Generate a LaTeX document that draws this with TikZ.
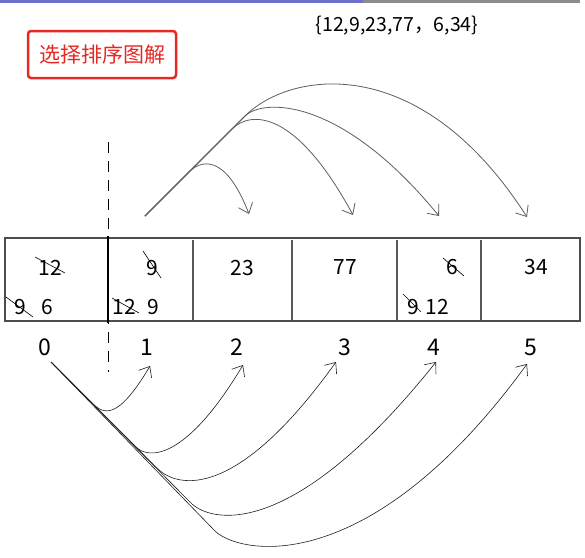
\documentclass[tikz,border=0pt]{standalone}
\usepackage{fontspec}
\setmainfont{Noto Sans CJK SC}
\usetikzlibrary{arrows.meta}
\definecolor{barblue}{RGB}{108,112,200}
\definecolor{bargray}{RGB}{140,140,140}
\definecolor{boxred}{RGB}{230,40,35}
\definecolor{topcurve}{RGB}{95,95,95}
\definecolor{botcurve}{RGB}{30,30,30}
\begin{document}
\begin{tikzpicture}[x=1pt,y=-1pt,
  num/.style={font=\fontsize{21}{21}\selectfont, inner sep=0pt},
  idx/.style={font=\fontsize{23}{23}\selectfont, inner sep=0pt},
  strike/.style={line width=0.6pt, black},
  toparc/.style={draw=topcurve, line width=0.8pt, -{Straight Barb[length=9pt,width=15pt]}},
  botarc/.style={draw=botcurve, line width=0.6pt, -{Straight Barb[length=9pt,width=15pt]}},
  cellline/.style={draw=black!70, line width=1.2pt}]
\useasboundingbox (0,0) rectangle (585,557);
\fill[white] (0,0) rectangle (585,557);
\fill[barblue] (0,0) rectangle (363,3);
\fill[bargray] (363,0) rectangle (580,3);

% title and label
\node[font=\fontsize{19.5}{20}\selectfont, inner sep=0pt] (title) at (397,26) {\{12,9,23,77，6,34\}};
\node[draw=boxred, line width=2.5pt, rounded corners=3pt, minimum width=148pt, minimum height=47pt,
      text=boxred, font=\fontsize{21}{21}\selectfont] (label) at (102,54.5) {选择排序图解};

% dashed divider
\draw[dash pattern=on 11pt off 8pt, line width=1pt] (108,142) -- (108,372);

% table
\draw[cellline] (5,238) rectangle (580,321);
\foreach \xx in {193,292,397,481} \draw[draw=black!65, line width=1.1pt] (\xx,240) -- (\xx,319.5);
\draw[black, line width=2pt] (108,236) -- (108,323);

% cell texts
\node[num] (c0a) at (50,268) {12};
\node[num] (c0b) at (20,307) {9};
\node[num] (c0c) at (47,307) {6};
\node[num] (c1a) at (152,268) {9};
\node[num] (c1b) at (124,307) {12};
\node[num] (c1c) at (153,307) {9};
\node[num] (c2a) at (242,268) {23};
\node[num] (c3a) at (345,267) {77};
\node[num] (c4a) at (452,267) {6};
\node[num] (c4b) at (413,307) {9};
\node[num] (c4c) at (437,307) {12};
\node[num] (c5a) at (536,267) {34};

% strikes
\draw[strike] (35,257) -- (65,273);
\draw[strike] (143,251) -- (161,278);
\draw[strike] (6,297) -- (33,317);
\draw[strike] (112,298) -- (139,313);
\draw[strike] (443,258) -- (464,276);
\draw[strike] (403,294) -- (421,312);

% index labels
\node[idx] (i0) at (45,347) {0};
\node[idx] (i1) at (147,347) {1};
\node[idx] (i2) at (237,347) {2};
\node[idx] (i3) at (345,347) {3};
\node[idx] (i4) at (434,347) {4};
\node[idx] (i5) at (531,347) {5};

% curve end points
\coordinate (ts) at (145,216);
\coordinate (tt1) at (249,214);
\coordinate (tt2) at (353,215);
\coordinate (tt3) at (439,216);
\coordinate (tt4) at (527,217);
\coordinate (bs) at (51,362);
\coordinate (bt1) at (150,366);
\coordinate (bt2) at (243,365);
\coordinate (bt3) at (336,362);
\coordinate (bt4) at (436,362);
\coordinate (bt5) at (527,364);

% top arrows
\draw[toparc] (ts) -- (188,173) .. controls (200,160) and (225,152) .. (tt1);
\draw[toparc] (ts) -- (232,129) .. controls (250,111) and (295,108) .. (tt2);
\draw[toparc] (ts) -- (245,116) .. controls (262,99) and (340,95) .. (tt3);
\draw[toparc] (ts) -- (245,116) .. controls (290,71) and (420,50) .. (tt4);

% bottom arrows
\draw[botarc] (bs) -- (92,403) .. controls (104,415) and (118,420) .. (bt1);
\draw[botarc] (bs) -- (136,447) .. controls (148,459) and (185,462) .. (bt2);
\draw[botarc] (bs) -- (157,468) .. controls (172,484) and (230,510) .. (bt3);
\draw[botarc] (bs) -- (190,502) .. controls (208,522) and (290,545) .. (bt4);
\draw[botarc] (bs) -- (215,531) .. controls (240,555) and (370,580) .. (bt5);
\end{tikzpicture}
\end{document}
